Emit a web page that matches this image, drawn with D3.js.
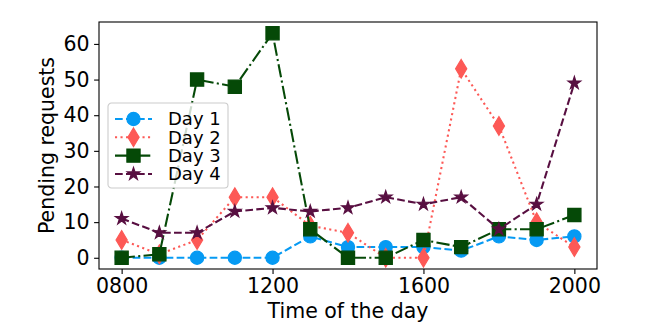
<!DOCTYPE html>
<html>
<head>
<meta charset="utf-8">
<script src="https://cdn.jsdelivr.net/npm/d3@7"></script>
<style>
  html, body { margin: 0; padding: 0; background: #fff; }
  svg { display: block; font-family: "DejaVu Sans", sans-serif; }
</style>
</head>
<body>
<svg id="chart" width="662" height="330"></svg>
<script>
// Hours of the day at which pending requests were sampled
const hours = [800, 900, 1000, 1100, 1200, 1300, 1400, 1500, 1600, 1700, 1800, 1900, 2000];

// Pending requests per day
const day1 = [0, 0, 0, 0, 0, 6, 3, 3, 3, 2, 6, 5, 6];
const day2 = [5, 1, 5, 17, 17, 9, 7, 0, 0, 53, 37, 10, 3];
const day3 = [0, 1, 50, 48, 63, 8, 0, 0, 5, 3, 8, 8, 12];
const day4 = [11, 7, 7, 13, 14, 13, 14, 17, 15, 17, 8, 15, 49];

const seriesNames = ["Day 1", "Day 2", "Day 3", "Day 4"];
const xTickValues = [800, 1200, 1600, 2000];
const xTickLabels = ["0800", "1200", "1600", "2000"];
const yTickValues = [0, 10, 20, 30, 40, 50, 60];

const seriesValues = [day1, day2, day3, day4];
const colors = ["#069af3", "#fd5956", "#054907", "#580f41"];
const dashes = ["7.7,3.3", "2.1,3.4", "13.3,3.3,2.1,3.3", "7.7,3.3"];
const markers = ["circle", "thinDiamond", "square", "star"];

const svg = d3.select("#chart");
const plot = { left: 99, right: 597, top: 22, bottom: 269 };

// Axis limits padded by 5% of the data range on each side
const xMin = d3.min(hours), xMax = d3.max(hours);
const xPad = (xMax - xMin) * 0.05;
const allVals = seriesValues.flat();
const yMin = d3.min(allVals), yMax = d3.max(allVals);
const yPad = (yMax - yMin) * 0.05;

const x = d3.scaleLinear().domain([xMin - xPad, xMax + xPad]).range([plot.left, plot.right]);
const y = d3.scaleLinear().domain([yMin - yPad, yMax + yPad]).range([plot.bottom, plot.top]);

const fontSize = 20.5;

// Marker shapes
const MS = 13.2; // marker size in px
function markerPath(kind) {
  const h = MS / 2;
  if (kind === "circle") {
    return d3.symbol().type(d3.symbolCircle).size(Math.PI * h * h)();
  }
  if (kind === "square") {
    return `M${-h},${-h}H${h}V${h}H${-h}Z`;
  }
  if (kind === "thinDiamond") {
    const hh = h * Math.SQRT2, hw = hh * 0.6;
    return `M0,${-hh}L${hw},0L0,${hh}L${-hw},0Z`;
  }
  if (kind === "star") {
    const R = h, r = R * 0.381966;
    const pts = [];
    for (let i = 0; i < 10; i++) {
      const a = -Math.PI / 2 + i * Math.PI / 5;
      const rad = i % 2 === 0 ? R : r;
      pts.push([rad * Math.cos(a), rad * Math.sin(a)]);
    }
    return "M" + pts.map(p => p[0].toFixed(2) + "," + p[1].toFixed(2)).join("L") + "Z";
  }
}

// Clip series to the axes area
svg.append("defs").append("clipPath").attr("id", "plotClip")
  .append("rect")
  .attr("x", plot.left).attr("y", plot.top)
  .attr("width", plot.right - plot.left).attr("height", plot.bottom - plot.top);

const seriesLayer = svg.append("g").attr("clip-path", "url(#plotClip)");
const line = d3.line().x((d, i) => x(hours[i])).y(d => y(d));

seriesValues.forEach((vals, s) => {
  const g = seriesLayer.append("g");
  g.append("path")
    .datum(vals)
    .attr("d", line)
    .attr("fill", "none")
    .attr("stroke", colors[s])
    .attr("stroke-width", 2.08)
    .attr("stroke-dasharray", dashes[s]);
  g.selectAll("path.mk")
    .data(vals)
    .join("path")
    .attr("class", "mk")
    .attr("d", markerPath(markers[s]))
    .attr("transform", (d, i) => `translate(${x(hours[i])},${y(d)})`)
    .attr("fill", colors[s])
    .attr("stroke", colors[s])
    .attr("stroke-width", 1.2)
    .attr("stroke-linejoin", "miter");
});

// Axes
const xAxis = d3.axisBottom(x)
  .tickValues(xTickValues)
  .tickFormat((d, i) => xTickLabels[i])
  .tickSizeInner(4.9).tickSizeOuter(0).tickPadding(4.2);
const yAxis = d3.axisLeft(y)
  .tickValues(yTickValues)
  .tickSizeInner(4.9).tickSizeOuter(0).tickPadding(4.5);

const gx = svg.append("g").attr("transform", `translate(0,${plot.bottom})`).call(xAxis);
const gy = svg.append("g").attr("transform", `translate(${plot.left},0)`).call(yAxis);
[gx, gy].forEach(g => {
  g.select(".domain").remove();
  g.selectAll(".tick line").attr("stroke", "#000").attr("stroke-width", 1.1);
  g.selectAll(".tick text")
    .attr("fill", "#000")
    .attr("font-family", "DejaVu Sans")
    .attr("font-size", fontSize);
});

// Frame around the plotting area
svg.append("rect")
  .attr("x", plot.left).attr("y", plot.top)
  .attr("width", plot.right - plot.left).attr("height", plot.bottom - plot.top)
  .attr("fill", "none").attr("stroke", "#000").attr("stroke-width", 1.1);

// Axis titles
svg.append("text")
  .attr("x", (plot.left + plot.right) / 2).attr("y", 318)
  .attr("text-anchor", "middle")
  .attr("font-size", fontSize)
  .attr("fill", "#000")
  .text("Time of the day");

svg.append("text")
  .attr("transform", `translate(54,${(plot.top + plot.bottom) / 2}) rotate(-90)`)
  .attr("text-anchor", "middle")
  .attr("font-size", fontSize)
  .attr("fill", "#000")
  .text("Pending requests");

// Legend
const legend = svg.append("g").attr("transform", "translate(108,103)");
legend.append("rect")
  .attr("x", 0).attr("y", 0).attr("width", 120).attr("height", 85)
  .attr("rx", 3.5).attr("ry", 3.5)
  .attr("fill", "#fff").attr("fill-opacity", 0.8)
  .attr("stroke", "#cccccc").attr("stroke-width", 1.1);

const rowY = [16, 34.3, 52.6, 71];
seriesNames.forEach((name, s) => {
  const row = legend.append("g").attr("transform", `translate(0,${rowY[s]})`);
  row.append("line")
    .attr("x1", 7).attr("x2", 44).attr("y1", 0).attr("y2", 0)
    .attr("stroke", colors[s]).attr("stroke-width", 2.08)
    .attr("stroke-dasharray", dashes[s]);
  row.append("path")
    .attr("d", markerPath(markers[s]))
    .attr("transform", "translate(25.5,0)")
    .attr("fill", colors[s]).attr("stroke", colors[s]).attr("stroke-width", 1.2);
  row.append("text")
    .attr("x", 60).attr("y", 0).attr("dy", "0.36em")
    .attr("font-size", 18).attr("fill", "#000")
    .text(name);
});
</script>
</body>
</html>
